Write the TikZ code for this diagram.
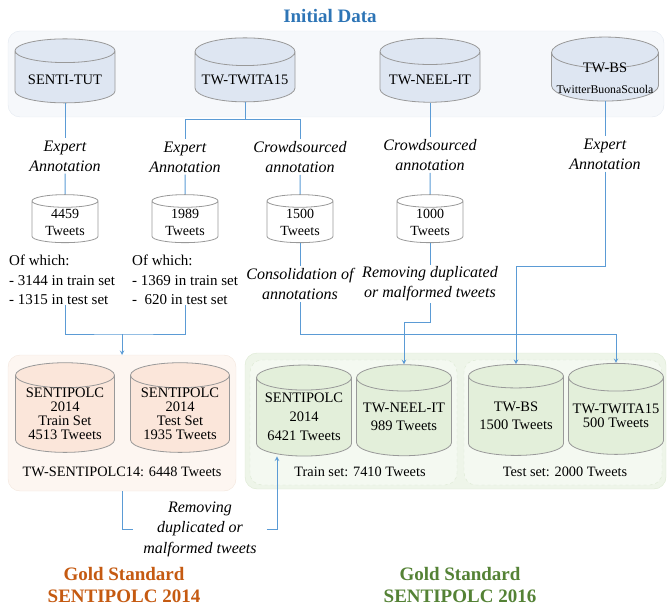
\documentclass[tikz,border=0pt]{standalone}
\usepackage{fontspec}
\setmainfont{Liberation Serif}
\usepackage{tikz}
\usetikzlibrary{shapes,arrows,shadows}
\definecolor{titleblue}{HTML}{2E75B6}
\definecolor{linkblue}{HTML}{5B9BD5}
\definecolor{dbgray}{HTML}{999999}
\definecolor{topfill}{HTML}{DEE6F2}
\definecolor{orgfill}{HTML}{FBE6DA}
\definecolor{grnfill}{HTML}{E3EFDA}
\definecolor{topback}{HTML}{F6F8FB}
\definecolor{topline}{HTML}{E4E9F1}
\definecolor{orgback}{HTML}{FDF6F1}
\definecolor{orgline}{HTML}{F3E6DD}
\definecolor{grnback}{HTML}{EEF5E9}
\definecolor{grnin}{HTML}{F4F9F1}
\definecolor{grnline}{HTML}{DCE9D2}
\definecolor{goldorange}{HTML}{C55A11}
\definecolor{goldgreen}{HTML}{548235}
\tikzstyle{panel} = [rounded corners=12pt,inner sep=0pt,outer sep=0pt]
\tikzstyle{db} = [draw=dbgray,line width=0.8pt,cylinder,shape border rotate=90,shape aspect=0.32,
                  align=center,inner sep=0pt,font=\fontsize{14.5}{15}\selectfont]
\tikzstyle{topdb} = [db,fill=topfill,minimum width=100pt,minimum height=64pt,text height=16pt]
\tikzstyle{minidb} = [db,fill=white,minimum width=66pt,minimum height=48pt,font=\fontsize{14}{17}\selectfont]
\tikzstyle{note} = [align=center,inner sep=2pt,font=\fontsize{16}{20}\selectfont\itshape]
\tikzstyle{count} = [align=left,inner sep=0pt,font=\fontsize{15}{19.5}\selectfont]
\tikzstyle{link} = [linkblue,line width=1pt]
\tikzstyle{arrow} = [link,->,>=stealth]

\begin{document}
\begin{tikzpicture}[x=1pt,y=-1pt]
\useasboundingbox (0,0) rectangle (667,607);
% panels
\node[panel,fill=topback,draw=topline,minimum width=656pt,minimum height=86pt] (initial) at (336,74) {};
\node[font=\fontsize{19}{21}\selectfont\bfseries,text=titleblue] (title) at (330,16) {Initial Data};
\node[panel,fill=orgback,draw=orgline,minimum width=228pt,minimum height=136pt] (gs14) at (122,423) {};
\node[panel,fill=grnback,draw=grnline,minimum width=421pt,minimum height=136pt] (gs16) at (455.5,421) {};
\node[panel,fill=grnin,draw=grnline,dashed,minimum width=207pt,minimum height=125pt] (trainset) at (353.5,422.5) {};
\node[panel,fill=grnin,draw=grnline,dashed,minimum width=198pt,minimum height=125pt] (testset) at (563,422.5) {};

% initial data
\node[topdb] (senti) at (65,77) {SENTI-TUT};
\node[topdb] (twita) at (245,77) {TW-TWITA15};
\node[topdb] (neel) at (430,77) {TW-NEEL-IT};
\node[db,fill=topfill,minimum width=107pt,minimum height=64pt] (bs) at (605,77)
    {\raisebox{-17pt}[0pt][0pt]{\begin{tabular}[b]{@{}c@{}}TW-BS\\[6pt]{\fontsize{11.8}{13}\selectfont TwitterBuonaScuola}\end{tabular}}};

% annotation steps
\node[note] (ann1) at (65,156) {Expert\\Annotation};
\node[note] (ann2) at (185,157) {Expert\\Annotation};
\node[note] (ann3) at (300,157) {Crowdsourced\\annotation};
\node[note] (ann4) at (430,155) {Crowdsourced\\annotation};
\node[note] (ann5) at (605,154) {Expert\\Annotation};

\node[minidb] (t1) at (65,222) {4459\\Tweets};
\node[minidb] (t2) at (185,222) {1989\\Tweets};
\node[minidb] (t3) at (300,222) {1500\\Tweets};
\node[minidb] (t4) at (430,222) {1000\\Tweets};

\node[count,anchor=north west] (of1) at (9,255) {Of which:\\- 3144 in train set\\- 1315 in test set};
\node[count,anchor=north west] (of2) at (132,255) {Of which:\\- 1369 in train set\\- \ 620 in test set};
\node[note] (cons) at (300,284) {Consolidation of\\annotations};
\node[note] (rem) at (430,284) {Removing duplicated\\or malformed tweets};

% gold standard 2014
\node[db,fill=orgfill,minimum width=99pt,minimum height=89pt,font=\fontsize{14.5}{14}\selectfont] (tr14) at (65,414)
    {SENTIPOLC\\2014\\Train Set\\4513 Tweets};
\node[db,fill=orgfill,minimum width=99pt,minimum height=89pt,font=\fontsize{14.5}{14}\selectfont] (te14) at (180,414)
    {SENTIPOLC\\2014\\Test Set\\1935 Tweets};
\node[font=\fontsize{14.3}{16}\selectfont] (tw14) at (122,472) {TW-SENTIPOLC14: 6448 Tweets};

% gold standard 2016
\node[db,fill=grnfill,minimum width=95pt,minimum height=91pt,font=\fontsize{14.5}{19}\selectfont] (sp16) at (304,417)
    {SENTIPOLC\\2014\\6421 Tweets};
\node[db,fill=grnfill,minimum width=95pt,minimum height=91pt,font=\fontsize{14.5}{18}\selectfont] (neel16) at (404,417)
    {TW-NEEL-IT\\989 Tweets};
\node[db,fill=grnfill,minimum width=95pt,minimum height=91pt,font=\fontsize{14.5}{18}\selectfont] (bs16) at (516,416)
    {TW-BS\\1500 Tweets};
\node[db,fill=grnfill,minimum width=95pt,minimum height=91pt,font=\fontsize{14.5}{14}\selectfont] (tw16) at (616,416)
    {TW-TWITA15\\500 Tweets};
\node[font=\fontsize{14.3}{16}\selectfont] (trainlbl) at (360,472) {Train set: 7410 Tweets};
\node[font=\fontsize{14.3}{16}\selectfont] (testlbl) at (565,472) {Test set: 2000 Tweets};

\node[note,inner xsep=10pt,font=\fontsize{16}{20.5}\selectfont\itshape] (rem2) at (200,529)
    {Removing\\duplicated or\\malformed tweets};
\node[align=center,text=goldorange,font=\fontsize{19}{22}\selectfont\bfseries] (gold14) at (124,585)
    {Gold Standard\\SENTIPOLC 2014};
\node[align=center,text=goldgreen,font=\fontsize{19}{22}\selectfont\bfseries] (gold16) at (460,585)
    {Gold Standard\\SENTIPOLC 2016};

% connectors
\draw[link] (senti.south) -- (ann1.north);
\draw[link] (twita.south) -- ++(0,17) -| (ann2.north);
\draw[link] (twita.south) -- ++(0,17) -| (ann3.north);
\draw[link] (neel.south) -- (ann4.north);
\draw[link] (bs.south) -- (ann5.north);
\draw[link] (ann1.south) -- (t1.north);
\draw[link] (ann2.south) -- (t2.north);
\draw[link] (ann3.south) -- (t3.north);
\draw[link] (ann4.south) -- (t4.north);
\draw[link] (t3.south) -- (cons.north);
\draw[link] (t4.south) -- (rem.north);
\coordinate (j14) at (122,334);
\draw[link] (of1.south -| t1.south) |- (j14) -| (of2.south -| t2.south);
\draw[arrow] (j14) -- (gs14.north);
\draw[arrow] (cons.south) |- (j14 -| tw16.north) -- (tw16.north);
\draw[arrow] (rem.south) -- ++(0,19) -| (neel16.north);
\draw[arrow] (ann5.south) -- ++(0,95) -| (bs16.north);
\draw[link] (gs14.south) |- (rem2.west);
\draw[arrow] (rem2.east) -| ([xshift=-27pt]sp16.south);
\end{tikzpicture}
\end{document}
